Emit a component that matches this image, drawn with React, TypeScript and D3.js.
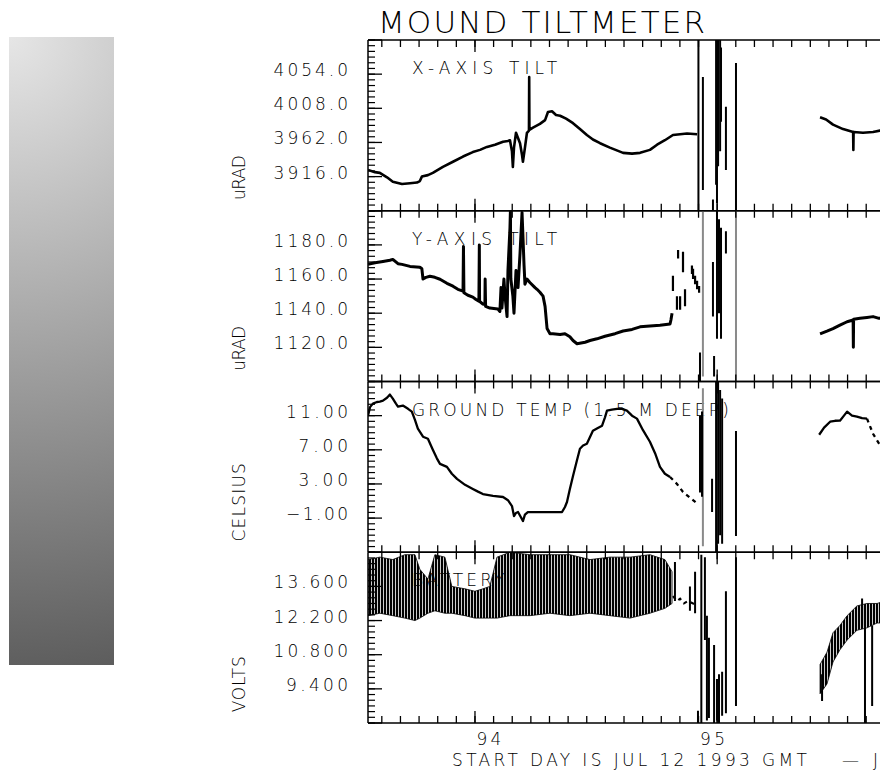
import React from 'react';
import * as d3 from 'd3';

type Pt = [number, number];
type Seg = [number, number, number];

// time axis (decimal day of year)
const DAY_DOMAIN: [number, number] = [93.459, 96.107];
const DAY_LABELS = [94, 95];
const TICK_FIRST = 93.5208;
const TICK_STEP = 1 / 12;
const MAJOR_TICKS = [93.9375, 95.0208];

const TITLE = 'MOUND TILTMETER';
const FOOTER = 'START DAY IS JUL 12 1993 GMT';
const FOOTER_END = '— J';

// X-axis tilt (uRAD)
const xTiltA: Pt[] = [
  [93.459, 3925], [93.490, 3922], [93.512, 3921], [93.544, 3915], [93.570, 3909], [93.611, 3906],
  [93.647, 3907], [93.678, 3908], [93.691, 3910], [93.700, 3916], [93.727, 3918], [93.749, 3921],
  [93.794, 3929], [93.839, 3936], [93.884, 3943], [93.928, 3949], [93.960, 3952], [93.991, 3956],
  [94.027, 3959], [94.063, 3963], [94.085, 3964], [94.094, 3965], [94.103, 3950], [94.107, 3929],
  [94.112, 3955], [94.121, 3975], [94.130, 3968], [94.139, 3961], [94.148, 3945], [94.152, 3936],
  [94.161, 3955], [94.170, 3975], [94.179, 3978], [94.180, 4050], [94.181, 3979], [94.197, 3982],
  [94.228, 3987], [94.251, 3992], [94.264, 4003], [94.282, 4004], [94.300, 3999], [94.318, 3998],
  [94.345, 3994], [94.376, 3988], [94.407, 3980], [94.438, 3972], [94.465, 3966], [94.497, 3961],
  [94.541, 3955], [94.600, 3948], [94.640, 3947], [94.676, 3948], [94.720, 3952], [94.752, 3959],
  [94.787, 3965], [94.823, 3972], [94.855, 3973], [94.886, 3974], [94.931, 3973],
];
const xTiltB: Pt[] = [
  [95.481, 3996], [95.508, 3993], [95.539, 3986], [95.584, 3980], [95.629, 3976], [95.630, 3952],
  [95.631, 3976], [95.673, 3975], [95.718, 3976], [95.749, 3978], [95.772, 3979],
];
const xTiltBursts: Seg[] = [
  [94.937, 3870, 4100], [94.957, 3898, 4050], [95.002, 3870, 3885], [95.016, 3905, 4100],
  [95.020, 3880, 4100], [95.025, 3930, 4100], [95.034, 3950, 4100], [95.038, 3990, 4090],
  [95.060, 3925, 4010], [95.105, 3870, 4069],
];

// Y-axis tilt (uRAD)
const yTiltA: Pt[] = [
  [93.459, 1168.6], [93.490, 1169.5], [93.526, 1170.3], [93.557, 1171], [93.570, 1171.5],
  [93.593, 1169], [93.611, 1168.6], [93.647, 1167.4], [93.691, 1166.9], [93.700, 1166],
  [93.705, 1160], [93.718, 1161], [93.736, 1161.6], [93.758, 1161], [93.781, 1159.9],
  [93.812, 1157.5], [93.839, 1155.8], [93.861, 1154], [93.884, 1152.9], [93.886, 1179],
  [93.888, 1152], [93.906, 1150.5], [93.928, 1149.4], [93.942, 1148], [93.955, 1147],
  [93.957, 1180], [93.958, 1147], [93.973, 1145.3], [93.982, 1145], [93.983, 1160],
  [93.985, 1144], [94.004, 1143], [94.040, 1142.4], [94.049, 1141], [94.054, 1155],
  [94.058, 1143], [94.067, 1160], [94.072, 1150], [94.081, 1138], [94.085, 1165],
  [94.094, 1190], [94.096, 1200], [94.098, 1160], [94.107, 1150], [94.112, 1140],
  [94.121, 1165], [94.130, 1155], [94.139, 1175], [94.148, 1199], [94.157, 1168],
  [94.161, 1157], [94.170, 1160], [94.183, 1158], [94.206, 1155], [94.215, 1154],
  [94.228, 1152.3], [94.242, 1150], [94.251, 1144], [94.260, 1131], [94.273, 1128],
  [94.286, 1127.9], [94.318, 1127.5], [94.340, 1128], [94.362, 1126.2], [94.376, 1124],
  [94.394, 1122.1], [94.430, 1123], [94.452, 1124], [94.483, 1125], [94.519, 1126.5],
  [94.564, 1128], [94.600, 1129.6], [94.640, 1130.5], [94.676, 1132], [94.720, 1132.5],
  [94.765, 1133], [94.810, 1133.7], [94.814, 1136], [94.819, 1140],
];
const yTiltB: Pt[] = [
  [95.481, 1127.9], [95.512, 1129.5], [95.539, 1131], [95.570, 1133], [95.602, 1135],
  [95.629, 1136], [95.630, 1120], [95.631, 1136.5], [95.660, 1137], [95.691, 1137.5],
  [95.718, 1138], [95.745, 1137], [95.772, 1137.5],
];
const yTiltDashes: Seg[] = [
  [94.823, 1153, 1162], [94.841, 1142, 1150], [94.846, 1172, 1177], [94.855, 1142, 1150],
  [94.868, 1164, 1176], [94.877, 1144, 1154], [94.908, 1163, 1168], [94.913, 1160, 1166],
  [94.922, 1157, 1162], [94.931, 1154, 1159], [94.940, 1152, 1156],
];
const yTiltBursts: Seg[] = [
  [94.944, 1100, 1117], [95.002, 1138, 1170], [95.007, 1103, 1115], [95.020, 1125, 1200],
  [95.029, 1140, 1195], [95.038, 1125, 1190], [95.060, 1175, 1188],
];
const yTiltFaint: Seg[] = [[94.957, 1103, 1200], [95.105, 1100, 1200]];

// ground temperature (celsius)
const tempA: Pt[] = [
  [93.459, 11.0], [93.468, 12.0], [93.481, 12.41], [93.499, 12.6], [93.512, 12.65], [93.526, 12.76],
  [93.544, 13.1], [93.557, 13.47], [93.570, 13.0], [93.584, 12.4], [93.593, 12.06], [93.615, 12.18],
  [93.638, 11.8], [93.655, 11.47], [93.669, 10.5], [93.682, 9.47], [93.705, 8.53], [93.727, 8.29],
  [93.749, 7.0], [93.767, 6.0], [93.781, 5.35], [93.812, 5.0], [93.834, 4.2], [93.857, 3.59],
  [93.893, 2.9], [93.928, 2.41], [93.951, 2.1], [93.973, 1.82], [94.018, 1.6], [94.063, 1.47],
  [94.085, 1.1], [94.103, 0.41], [94.112, -0.76], [94.121, -0.4], [94.130, -0.29], [94.143, -0.9],
  [94.152, -1.35], [94.161, -0.6], [94.174, -0.29], [94.215, -0.29], [94.273, -0.29], [94.327, -0.29],
  [94.340, 0.3], [94.349, 0.88], [94.362, 2.4], [94.376, 3.94], [94.394, 5.8], [94.407, 7.12],
  [94.421, 7.5], [94.438, 7.71], [94.452, 8.5], [94.465, 9.24], [94.483, 9.5], [94.506, 9.82],
  [94.519, 10.8], [94.528, 11.59], [94.550, 11.7], [94.573, 11.8], [94.595, 11.8], [94.617, 11.59],
  [94.640, 11.0], [94.662, 10.65], [94.689, 9.3], [94.720, 7.94], [94.743, 6.6], [94.765, 5.0],
  [94.787, 4.2], [94.810, 3.82],
];
const tempA2: Pt[] = [[94.810, 3.82], [94.841, 3.0], [94.868, 2.06], [94.899, 1.4], [94.935, 0.65]];
const tempB: Pt[] = [
  [95.477, 8.76], [95.499, 9.6], [95.526, 10.29], [95.548, 10.4], [95.570, 10.41], [95.588, 11.0],
  [95.602, 11.47], [95.624, 11.0], [95.646, 10.88], [95.669, 10.7], [95.691, 10.65],
];
const tempB2: Pt[] = [[95.691, 10.65], [95.718, 8.88], [95.745, 7.71], [95.763, 7.0]];
const tempBursts: Seg[] = [
  [94.944, 2, 11], [94.953, 1.5, 11.5], [94.998, -0.3, 3.6], [95.016, -5, 15], [95.025, -4, 15],
  [95.034, -3, 14], [95.043, -4, 13], [95.105, -3.1, 9.2],
];
const tempFaint: Seg[] = [[94.957, -4.3, 14.2]];

// battery (volts): [day, low, high] envelope of the fast swings
const battEnvA: Seg[] = [
  [93.459, 12.4, 14.7], [93.512, 12.5, 14.8], [93.570, 12.4, 14.7], [93.624, 12.3, 14.9],
  [93.669, 12.2, 14.9], [93.691, 12.3, 14.3], [93.727, 12.5, 13.9], [93.758, 12.6, 14.9],
  [93.803, 12.5, 14.8], [93.834, 12.5, 13.6], [93.893, 12.4, 13.5], [93.937, 12.3, 13.4],
  [93.973, 12.3, 13.5], [94.004, 12.3, 13.6], [94.036, 12.3, 14.8], [94.094, 12.4, 15.0],
  [94.183, 12.4, 14.9], [94.273, 12.5, 14.9], [94.362, 12.4, 14.9], [94.452, 12.5, 14.7],
  [94.541, 12.4, 14.8], [94.631, 12.3, 14.8], [94.720, 12.5, 14.9], [94.787, 12.7, 14.7],
  [94.819, 12.9, 14.2],
];
const battTrail: Pt[] = [
  [94.823, 13.2], [94.841, 13.0], [94.855, 13.1], [94.872, 12.9], [94.890, 13.0], [94.913, 12.9],
  [94.931, 12.8],
];
const battEnvB: Seg[] = [
  [95.481, 9.2, 10.4], [95.512, 9.6, 10.9], [95.539, 10.5, 11.7], [95.570, 11.0, 12.0],
  [95.602, 11.4, 12.4], [95.646, 11.8, 12.8], [95.691, 11.9, 12.9], [95.736, 12.1, 12.9],
  [95.772, 12.1, 13.0],
];
const battBursts: Seg[] = [
  [94.832, 13.0, 14.6], [94.899, 12.6, 13.6], [94.922, 12.5, 14.2], [94.935, 8.0, 8.5],
  [94.950, 8.0, 14.9], [94.966, 11.4, 14.8], [94.975, 8.1, 12.4], [94.984, 8.2, 11.5],
  [95.007, 8.0, 11.2], [95.020, 8.1, 9.8], [95.029, 8.0, 10.0], [95.043, 8.3, 10.1],
  [95.060, 8.4, 13.4], [95.105, 8.7, 14.8], [95.490, 8.9, 10.0], [95.669, 12.0, 13.1],
  [95.682, 8.0, 12.0], [95.714, 8.7, 12.0],
];

const W = 880;
const H = 772;
const PLOT_L = 368;
const PLOT_R = 960;
const TOP = 40;
const PANEL_H = 170.75;
const FONT = "'DejaVu Sans', Lato, sans-serif";

const panels = [
  { name: 'X-AXIS TILT', unit: 'uRAD', domain: [3870, 4100], step: 46, fmt: '.1f',
    lines: [xTiltA, xTiltB], dotted: [] as Pt[][], width: 2.6, env: [] as Seg[][],
    bursts: xTiltBursts, faint: [] as Seg[], dashes: [] as Seg[] },
  { name: 'Y-AXIS TILT', unit: 'uRAD', domain: [1100, 1200], step: 20, fmt: '.1f',
    lines: [yTiltA, yTiltB], dotted: [] as Pt[][], width: 3, env: [] as Seg[][],
    bursts: yTiltBursts, faint: yTiltFaint, dashes: yTiltDashes },
  { name: 'GROUND TEMP (1.5 M DEEP)', unit: 'CELSIUS', domain: [-5, 15], step: 4, fmt: '.2f',
    lines: [tempA, tempB], dotted: [tempA2, tempB2], width: 2.3, env: [] as Seg[][],
    bursts: tempBursts, faint: tempFaint, dashes: [] as Seg[] },
  { name: 'BATTERY', unit: 'VOLTS', domain: [8, 15], step: 1.4, fmt: '.3f',
    lines: [] as Pt[][], dotted: [battTrail], width: 2, env: [battEnvA, battEnvB],
    bursts: battBursts, faint: [] as Seg[], dashes: [] as Seg[] },
];

export default function App() {
  const x = d3.scaleLinear().domain(DAY_DOMAIN).range([PLOT_L, PLOT_R]);
  const nTicks = Math.floor((DAY_DOMAIN[1] - TICK_FIRST) / TICK_STEP) + 1;
  const minorTicks = d3.range(nTicks).map(i => TICK_FIRST + i * TICK_STEP);

  return (
    <svg width={W} height={H} style={{ position: 'absolute', left: 0, top: 0, background: '#fff' }}
      fontFamily={FONT} fontWeight={200}>
      <defs>
        <radialGradient id="bar" gradientUnits="userSpaceOnUse" cx={9} cy={37} r={650}>
          <stop offset="0" stopColor="#e6e6e6" />
          <stop offset="1" stopColor="#5a5a5a" />
        </radialGradient>
        <pattern id="hatch" width={3} height={6} patternUnits="userSpaceOnUse">
          <rect width={2.2} height={6} fill="#000" />
        </pattern>
        {panels.map((p, i) => (
          <clipPath id={'clip' + i} key={i}>
            <rect x={PLOT_L} y={TOP + i * PANEL_H} width={PLOT_R - PLOT_L} height={PANEL_H} />
          </clipPath>
        ))}
      </defs>

      <rect x={9} y={37} width={105} height={628} fill="url(#bar)" />

      <text x={378} y={33} fontSize={31} textLength={327} lengthAdjust="spacing">{TITLE}</text>

      {panels.map((p, i) => {
        const top = TOP + i * PANEL_H;
        const bottom = top + PANEL_H;
        const y = d3.scaleLinear().domain(p.domain).range([bottom, top]);
        const line = d3.line<Pt>().x(d => x(d[0])).y(d => y(d[1]));
        const area = d3.area<Seg>().x(d => x(d[0])).y0(d => y(d[1])).y1(d => y(d[2]));
        const nMajor = Math.round((p.domain[1] - p.domain[0]) / p.step);
        const majors = d3.range(nMajor + 1).map(k => p.domain[0] + k * p.step);
        const minors = d3.range(nMajor * 6 + 1).map(k => p.domain[0] + (k * p.step) / 6);
        const fmt = d3.format(p.fmt);
        const seg = (s: Seg, k: number, color: string, w: number) => (
          <line key={k} x1={x(s[0])} x2={x(s[0])} y1={y(s[1])} y2={y(s[2])} stroke={color} strokeWidth={w} />
        );
        return (
          <g key={i}>
            <text x={412} y={top + 34} fontSize={17} textLength={p.name.length * 13.2} lengthAdjust="spacing">{p.name}</text>

            <g clipPath={`url(#clip${i})`}>
              {p.env.map((e, k) => (
                <path key={'e' + k} d={area(e) || ''} fill="url(#hatch)" stroke="#000" strokeWidth={0.8} />
              ))}
              {p.lines.map((l, k) => (
                <path key={'l' + k} d={line(l) || ''} fill="none" stroke="#000" strokeWidth={p.width} strokeLinejoin="round" />
              ))}
              {p.dotted.map((l, k) => (
                <path key={'d' + k} d={line(l) || ''} fill="none" stroke="#000" strokeWidth={p.width} strokeDasharray="4 4" />
              ))}
              {p.faint.map((s, k) => seg(s, k, '#8a8a8a', 2))}
              {p.bursts.map((s, k) => seg(s, k, '#000', 2))}
              {p.dashes.map((s, k) => seg(s, k, '#000', 2.2))}
            </g>

            {/* frame */}
            <line x1={PLOT_L} x2={PLOT_R} y1={top} y2={top} stroke="#000" strokeWidth={1.5} />
            <line x1={PLOT_L} x2={PLOT_R} y1={bottom} y2={bottom} stroke="#000" strokeWidth={1.5} />
            <line x1={PLOT_L} x2={PLOT_L} y1={top} y2={bottom} stroke="#000" strokeWidth={1.5} />

            {/* time ticks, top and bottom of each panel */}
            {minorTicks.map((t, k) => (
              <g key={'t' + k}>
                <line x1={x(t)} x2={x(t)} y1={top} y2={top + 7} stroke="#000" strokeWidth={1.3} />
                <line x1={x(t)} x2={x(t)} y1={bottom} y2={bottom - 7} stroke="#000" strokeWidth={1.3} />
              </g>
            ))}
            {MAJOR_TICKS.map((t, k) => (
              <g key={'T' + k}>
                <line x1={x(t)} x2={x(t)} y1={top} y2={top + 12} stroke="#000" strokeWidth={1.3} />
                <line x1={x(t)} x2={x(t)} y1={bottom} y2={bottom - 12} stroke="#000" strokeWidth={1.3} />
              </g>
            ))}

            {/* value ticks */}
            {minors.map((v, k) => (
              <line key={'m' + k} x1={PLOT_L} x2={PLOT_L + 7} y1={y(v)} y2={y(v)} stroke="#000" strokeWidth={1.2} />
            ))}
            {majors.map((v, k) => (
              <line key={'M' + k} x1={PLOT_L} x2={PLOT_L + 14} y1={y(v)} y2={y(v)} stroke="#000" strokeWidth={1.3} />
            ))}
            {majors.slice(1, -1).map((v, k) => {
              const s = fmt(v);
              return (
                <text key={'L' + k} x={348} y={y(v) + 2} fontSize={17} textAnchor="end"
                  textLength={s.length * 12.4} lengthAdjust="spacing">{s}</text>
              );
            })}

            <text transform={`translate(245,${top + 160}) rotate(-90)`} fontSize={17}
              textLength={p.unit.length * 11.2} lengthAdjust="spacing">{p.unit}</text>
          </g>
        );
      })}

      {DAY_LABELS.map(d => (
        <text key={d} x={x(d)} y={745} fontSize={17} textAnchor="middle" textLength={25} lengthAdjust="spacing">{d}</text>
      ))}
      <text x={452} y={766} fontSize={17} textLength={355} lengthAdjust="spacing">{FOOTER}</text>
      <text x={842} y={766} fontSize={17} textLength={36} lengthAdjust="spacing">{FOOTER_END}</text>
    </svg>
  );
}
